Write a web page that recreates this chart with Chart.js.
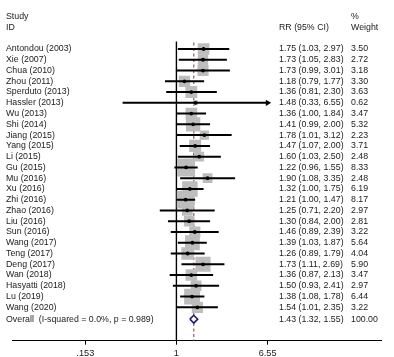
<!DOCTYPE html>
<html><head><meta charset="utf-8">
<script src="https://cdn.jsdelivr.net/npm/chart.js@4.4.1/dist/chart.umd.min.js"></script>
<style>html,body{margin:0;padding:0;background:#fff}canvas{display:block}</style>
</head><body>
<canvas id="c" width="394" height="357"></canvas>
<script>
const studies = ['Antondou (2003)','Xie (2007)','Chua (2010)','Zhou (2011)','Sperduto (2013)','Hassler (2013)','Wu (2013)','Shi (2014)','Jiang (2015)','Yang (2015)','Li (2015)','Gu (2015)','Mu (2016)','Xu (2016)','Zhi (2016)','Zhao (2016)','Liu (2016)','Sun (2016)','Wang (2017)','Teng (2017)','Deng (2017)','Wan (2018)','Hasyatti (2018)','Lu (2019)','Wang (2020)'];
const rr =    [1.75,1.73,1.73,1.18,1.36,1.48,1.36,1.41,1.78,1.47,1.60,1.22,1.90,1.32,1.21,1.25,1.30,1.46,1.39,1.26,1.73,1.36,1.50,1.38,1.54];
const lower = [1.03,1.05,0.99,0.79,0.81,0.33,1.00,0.99,1.01,1.07,1.03,0.96,1.08,1.00,1.00,0.71,0.84,0.89,1.03,0.89,1.11,0.87,0.93,1.08,1.01];
const upper = [2.97,2.83,3.01,1.77,2.30,6.55,1.84,2.00,3.12,2.00,2.50,1.55,3.35,1.75,1.47,2.20,2.00,2.39,1.87,1.79,2.69,2.13,2.41,1.78,2.35];
const weights = [3.50,2.72,3.18,3.30,3.63,0.62,3.47,5.32,2.23,3.71,2.48,8.33,2.48,6.19,8.17,2.97,2.81,3.22,5.64,4.04,5.90,3.47,2.97,6.44,3.22];
const overallLabel = 'Overall  (I-squared = 0.0%, p = 0.989)';
const overallRR = 1.43, overallLower = 1.32, overallUpper = 1.55, overallWeight = 100.00;
const tickValues = [0.153, 1, 6.55];
const tickLabels = ['.153', '1', '6.55'];

const overallRow = 25.1;
const yMin = -3.37, yMax = 27.1;
const FONT = '8.8px "Liberation Sans", Arial, sans-serif';
const TXT = '#1a1a1a';
const axisMax = tickValues[tickValues.length - 1];

const f2 = v => v.toFixed(2);

const textPlugin = {
  id: 'forestText',
  afterDatasetsDraw(chart) {
    const ctx = chart.ctx, y = chart.scales.y;
    ctx.save();
    ctx.font = FONT;
    ctx.fillStyle = TXT;
    ctx.textBaseline = 'middle';
    ctx.textAlign = 'left';
    const put = (t, x, v) => ctx.fillText(t, x, y.getPixelForValue(v));
    put('Study', 6, -3); put('ID', 6, -2);
    put('%', 351, -3); put('RR (95% CI)', 279, -2); put('Weight', 351, -2);
    studies.forEach((s, i) => {
      put(s, 6, i);
      put(`${f2(rr[i])} (${f2(lower[i])}, ${f2(upper[i])})`, 279, i);
      put(f2(weights[i]), 351, i);
    });
    put(overallLabel, 6, overallRow);
    put(`${f2(overallRR)} (${f2(overallLower)}, ${f2(overallUpper)})`, 279, overallRow);
    put(f2(overallWeight), 351, overallRow);
    ctx.restore();
  }
};

const datasets = [];
datasets.push({data: [{x: 1, y: -0.69}, {x: 1, y: yMax}], showLine: true, borderColor: '#000', borderWidth: 1.4, pointRadius: 0, order: 6});
datasets.push({data: [{x: overallRR, y: -0.6}, {x: overallRR, y: yMax}], showLine: true, borderColor: '#a0505e', borderWidth: 1.2, borderDash: [3, 2.5], pointRadius: 0, order: 5});
datasets.push({data: studies.map((s, i) => ({x: rr[i], y: i})), pointStyle: 'rect',
  pointRadius: c => 4.41 * Math.sqrt(weights[c.dataIndex]), backgroundColor: '#bdbdbd', borderWidth: 0, order: 4});
studies.forEach((s, i) => {
  const arrow = upper[i] >= axisMax;
  datasets.push({data: [{x: lower[i], y: i}, {x: upper[i], y: i}], showLine: true, borderColor: '#000', borderWidth: 2,
    pointStyle: 'triangle', pointRotation: 90, backgroundColor: '#000', borderCapStyle: 'butt',
    pointRadius: c => (arrow && c.dataIndex === 1) ? 3.6 : 0, pointBorderWidth: 0, order: 3});
});
datasets.push({data: studies.map((s, i) => ({x: rr[i], y: i})), pointStyle: 'circle', pointRadius: 1.9, backgroundColor: '#000', borderWidth: 0, order: 2});
const dh = 0.36;
datasets.push({data: [{x: overallLower, y: overallRow}, {x: overallRR, y: overallRow - dh}, {x: overallUpper, y: overallRow}, {x: overallRR, y: overallRow + dh}, {x: overallLower, y: overallRow}],
  showLine: true, fill: 'shape', backgroundColor: '#fff', borderColor: '#1c1c78', borderWidth: 1.6, pointRadius: 0, tension: 0, order: 1});

new Chart(document.getElementById('c'), {
  type: 'scatter',
  data: {datasets},
  options: {
    responsive: false, devicePixelRatio: 1, animation: false, events: [],
    layout: {padding: 0},
    plugins: {legend: {display: false}, tooltip: {enabled: false}},
    scales: {
      x: {
        type: 'logarithmic', min: 0.0343, max: 68.1, position: 'bottom',
        afterBuildTicks: s => { s.ticks = tickValues.map(v => ({value: v})); },
        afterFit: s => { s.height = 16.3; },
        grid: {drawOnChartArea: false, drawTicks: true, tickLength: 4, color: '#000', lineWidth: 1},
        border: {display: true, color: '#000', width: 1},
        ticks: {autoSkip: false, maxRotation: 0, padding: 3, color: TXT, font: {family: '"Liberation Sans", Arial, sans-serif', size: 9.2},
          callback: (v, i) => tickLabels[i]}
      },
      y: {type: 'linear', min: yMin, max: yMax, reverse: true, display: false}
    }
  },
  plugins: [textPlugin]
});
</script>
</body></html>
